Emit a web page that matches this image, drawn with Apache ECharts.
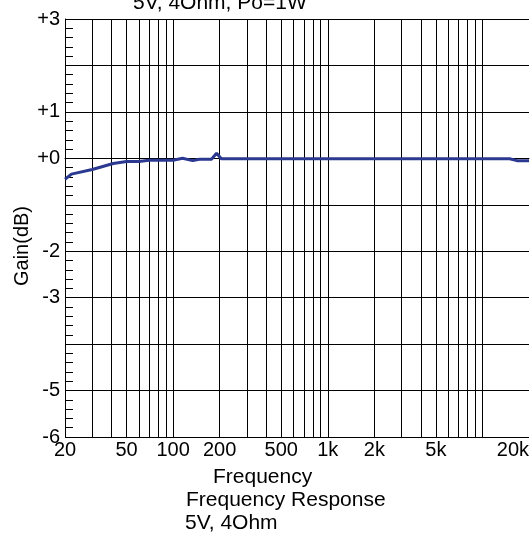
<!DOCTYPE html>
<html>
<head>
<meta charset="utf-8">
<script src="https://cdn.jsdelivr.net/npm/echarts@6/dist/echarts.min.js"></script>
<style>
html,body{margin:0;padding:0;background:#fff;}
#chart{width:532px;height:538px;}
</style>
</head>
<body>
<div id="chart"></div>
<script>
// Frequency response data (Hz, dB)
const freqs = [20, 22, 30, 41, 50, 60, 70, 100, 115, 134, 148, 177, 191, 205, 15000, 16700, 20000];
const gains = [-0.45, -0.34, -0.24, -0.11, -0.07, -0.07, -0.04, -0.04, 0.0, -0.05, -0.02, -0.02, 0.11, -0.01, -0.01, -0.05, -0.05];

// X axis labels and gridlines
const xLabelValues = [20, 50, 100, 200, 500, 1000, 2000, 5000, 20000];
const xGridValues = [20, 30, 40, 50, 60, 70, 80, 90, 100, 200, 300, 400, 500, 600, 700, 800, 900,
  1000, 2000, 3000, 4000, 5000, 6000, 7000, 8000, 9000, 10000];

// Y axis tick labels (values without a label are obscured in the source)
const yTickValues = [3, 2, 1, 0, -1, -2, -3, -4, -5, -6];
const yTickLabels = ['+3', '', '+1', '+0', '', '-2', '-3', '', '-5', '-6'];

const titleText = '5V, 4Ohm, Po=1W';
const xName = 'Frequency';
const subTitle1 = 'Frequency Response';
const subTitle2 = '5V, 4Ohm';
const yName = 'Gain(dB)';

const FONT = '"Liberation Sans", Arial, sans-serif';
const chart = echarts.init(document.getElementById('chart'), null, {renderer: 'canvas'});

const option = {
  backgroundColor: '#fff',
  animation: false,
  grid: {left: 65, top: 19, right: -2, bottom: 101, show: false},
  xAxis: {
    type: 'log', logBase: 10, min: 20, max: 20000,
    axisLine: {show: true, lineStyle: {color: '#000', width: 1}},
    axisTick: {show: false, customValues: xGridValues},
    splitLine: {show: true, lineStyle: {color: '#000', width: 1}},
    axisLabel: {
      customValues: xLabelValues, margin: 3, color: '#000', fontSize: 20, fontFamily: FONT,
      alignMaxLabel: 'right',
      formatter: v => (v >= 1000 ? (v / 1000) + 'k' : String(v))
    }
  },
  yAxis: {
    type: 'value', min: -6, max: 3, interval: 1,
    axisLine: {show: true, lineStyle: {color: '#000', width: 1}},
    axisTick: {show: true, inside: true, length: 8, lineStyle: {color: '#000', width: 1}},
    minorTick: {show: true, splitNumber: 5, length: 8, lineStyle: {color: '#000', width: 1}},
    splitLine: {show: true, lineStyle: {color: '#000', width: 1}},
    axisLabel: {
      margin: 5, color: '#000', fontSize: 20, fontFamily: FONT, padding: [0, 0, 4, 0],
      formatter: v => { const i = yTickValues.indexOf(Math.round(v)); return i >= 0 ? yTickLabels[i] : ''; }
    }
  },
  series: [{
    type: 'line',
    data: freqs.map((f, i) => [f, gains[i]]),
    showSymbol: false,
    symbol: 'none',
    lineStyle: {color: '#2B3990', width: 3},
    z: 5
  }],
  graphic: [
    {type: 'text', left: 133, top: -7, style: {text: titleText, fill: '#000', font: '21px ' + FONT}},
    {type: 'text', x: 213, y: 477.5, style: {text: xName, fill: '#000', font: '21px ' + FONT, textVerticalAlign: 'middle'}},
    {type: 'text', x: 186, y: 500, style: {text: subTitle1, fill: '#000', font: '21px ' + FONT, textVerticalAlign: 'middle'}},
    {type: 'text', x: 185, y: 523.5, style: {text: subTitle2, fill: '#000', font: '21px ' + FONT, textVerticalAlign: 'middle'}},
    {type: 'text', x: 22, y: 246, rotation: Math.PI / 2, style: {text: yName, fill: '#000', font: '20px ' + FONT, textAlign: 'center', textVerticalAlign: 'middle'}}
  ]
};
chart.setOption(option);
</script>
</body>
</html>
